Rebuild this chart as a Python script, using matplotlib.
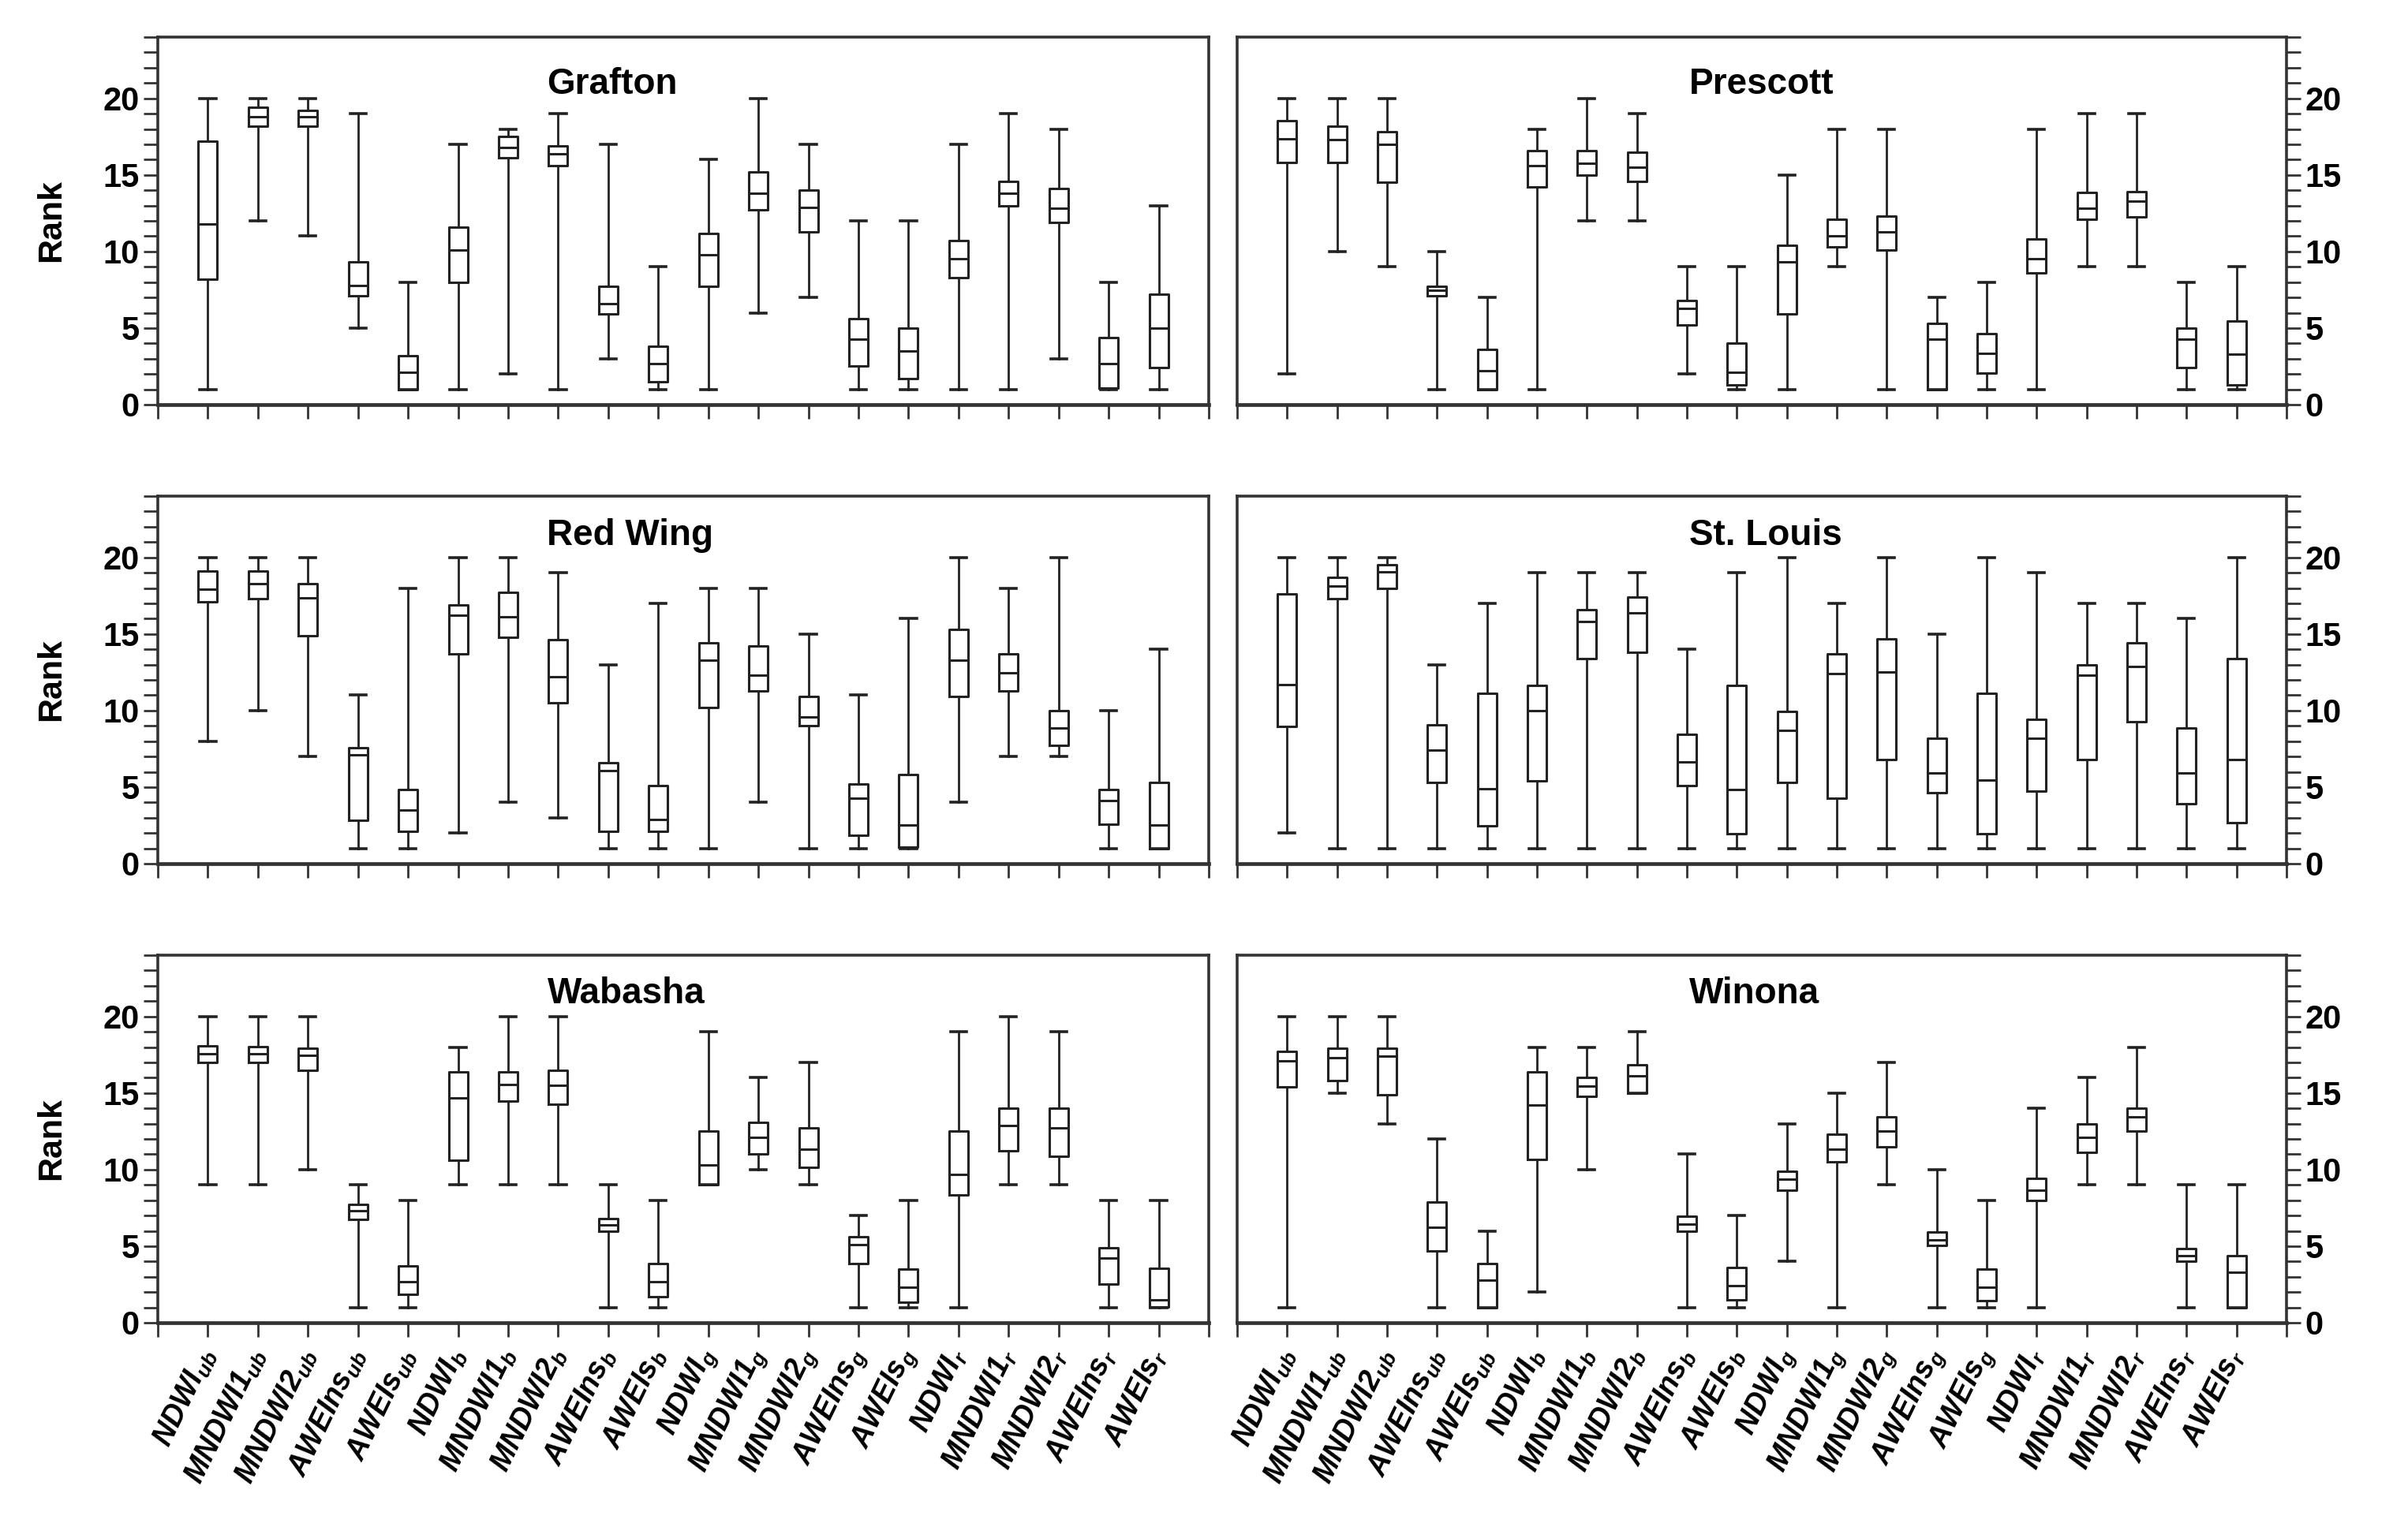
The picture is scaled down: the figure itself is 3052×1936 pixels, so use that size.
import matplotlib
matplotlib.use("Agg")
import matplotlib.pyplot as plt
from matplotlib.ticker import MultipleLocator, FixedLocator

plt.rcParams['font.family'] = ['Liberation Sans', 'DejaVu Sans']
plt.rcParams['font.weight'] = 'bold'
plt.rcParams['mathtext.fontset'] = 'custom'
plt.rcParams['mathtext.it'] = 'Liberation Sans:italic:bold'
plt.rcParams['mathtext.rm'] = 'Liberation Sans:italic:bold'
plt.rcParams['mathtext.bf'] = 'Liberation Sans:italic:bold'

# ---------------- data ----------------
indices = ["NDWI", "MNDWI1", "MNDWI2", "AWEIns", "AWEIs"]
bands = ["ub", "b", "g", "r"]
tick_labels = [f"{i}$_{{{b}}}$" for b in bands for i in indices]

sites = ["Grafton", "Prescott", "Red Wing", "St. Louis", "Wabasha", "Winona"]

grafton_lo = [1, 12, 11, 5, 1, 1, 2, 1, 3, 1, 1, 6, 7, 1, 1, 1, 1, 3, 1, 1]
grafton_q1 = [8.2, 18.2, 18.2, 7.1, 1.0, 8.0, 16.1, 15.6, 5.9, 1.5, 7.7, 12.7, 11.3, 2.5, 1.7, 8.3, 13.0, 11.9, 1.1, 2.4]
grafton_med = [11.8, 18.8, 18.8, 7.8, 2.1, 10.1, 16.8, 16.4, 6.6, 2.7, 9.8, 13.8, 12.9, 4.25, 3.5, 9.55, 13.8, 12.8, 2.7, 5.0]
grafton_q3 = [17.2, 19.4, 19.2, 9.3, 3.2, 11.6, 17.5, 16.9, 7.7, 3.8, 11.2, 15.2, 14.0, 5.6, 5.0, 10.7, 14.6, 14.1, 4.4, 7.2]
grafton_hi = [20, 20, 20, 19, 8, 17, 18, 19, 17, 9, 16, 20, 17, 12, 12, 17, 19, 18, 8, 13]

prescott_lo = [2, 10, 9, 1, 1, 1, 12, 12, 2, 1, 1, 9, 1, 1, 1, 1, 9, 9, 1, 1]
prescott_q1 = [15.8, 15.8, 14.5, 7.1, 1.0, 14.2, 15.0, 14.6, 5.2, 1.3, 5.9, 10.3, 10.1, 1.0, 2.05, 8.6, 12.1, 12.25, 2.4, 1.3]
prescott_med = [17.35, 17.3, 17.0, 7.45, 2.2, 15.6, 15.75, 15.5, 6.3, 2.1, 9.3, 11.0, 11.3, 4.3, 3.35, 9.55, 12.8, 13.3, 4.3, 3.3]
prescott_q3 = [18.55, 18.2, 17.8, 7.7, 3.6, 16.6, 16.6, 16.5, 6.8, 4.0, 10.4, 12.1, 12.3, 5.3, 4.65, 10.8, 13.85, 13.9, 5.0, 5.45]
prescott_hi = [20, 20, 20, 10, 7, 18, 20, 19, 9, 9, 15, 18, 18, 7, 8, 18, 19, 19, 8, 9]

redwing_lo = [8, 10, 7, 1, 1, 2, 4, 3, 1, 1, 1, 4, 1, 1, 1, 4, 7, 7, 1, 1]
redwing_q1 = [17.1, 17.3, 14.9, 2.85, 2.1, 13.7, 14.8, 10.5, 2.1, 2.1, 10.2, 11.3, 9.0, 1.85, 1.1, 10.9, 11.3, 7.75, 2.6, 1.0]
redwing_med = [17.9, 18.3, 17.35, 7.1, 3.5, 16.2, 16.1, 12.2, 6.1, 2.9, 13.3, 12.3, 9.6, 4.3, 2.5, 13.3, 12.45, 8.85, 4.1, 2.5]
redwing_q3 = [19.1, 19.1, 18.3, 7.55, 4.85, 16.9, 17.7, 14.65, 6.6, 5.1, 14.4, 14.2, 10.9, 5.2, 5.8, 15.3, 13.7, 10.0, 4.85, 5.3]
redwing_hi = [20, 20, 20, 11, 18, 20, 20, 19, 13, 17, 18, 18, 15, 11, 16, 20, 18, 20, 10, 14]

stlouis_lo = [2, 1, 1, 1, 1, 1, 1, 1, 1, 1, 1, 1, 1, 1, 1, 1, 1, 1, 1, 1]
stlouis_q1 = [8.95, 17.3, 18.0, 5.3, 2.45, 5.4, 13.4, 13.8, 5.1, 1.95, 5.3, 4.25, 6.8, 4.65, 1.95, 4.75, 6.8, 9.25, 3.9, 2.7]
stlouis_med = [11.7, 18.15, 19.05, 7.4, 4.9, 10.0, 15.8, 16.4, 6.65, 4.85, 8.7, 12.4, 12.5, 5.9, 5.45, 8.2, 12.3, 12.85, 5.9, 6.8]
stlouis_q3 = [17.6, 18.7, 19.5, 9.05, 11.15, 11.65, 16.6, 17.4, 8.45, 11.65, 9.95, 13.7, 14.7, 8.2, 11.15, 9.4, 13.0, 14.4, 8.85, 13.4]
stlouis_hi = [20, 20, 20, 13, 17, 19, 19, 19, 14, 19, 20, 17, 20, 15, 20, 19, 17, 17, 16, 20]

wabasha_lo = [9, 9, 10, 1, 1, 9, 9, 9, 1, 1, 9, 10, 9, 1, 1, 1, 9, 9, 1, 1]
wabasha_q1 = [16.98, 17.0, 16.5, 6.75, 1.85, 10.6, 14.45, 14.25, 6.0, 1.7, 9.0, 11.0, 10.15, 3.85, 1.35, 8.35, 11.25, 10.85, 2.5, 1.05]
wabasha_med = [17.54, 17.55, 17.45, 7.3, 2.7, 14.7, 15.55, 15.5, 6.4, 2.7, 10.3, 12.1, 11.35, 5.1, 2.3, 9.7, 12.9, 12.7, 4.2, 1.5]
wabasha_q3 = [18.06, 18.05, 17.9, 7.7, 3.7, 16.4, 16.4, 16.5, 6.8, 3.85, 12.5, 13.1, 12.7, 5.6, 3.5, 12.5, 14.0, 14.0, 4.9, 3.55]
wabasha_hi = [20, 20, 20, 9, 8, 18, 20, 20, 9, 8, 19, 16, 17, 7, 8, 19, 20, 19, 8, 8]

winona_lo = [1, 15, 13, 1, 1, 2, 10, 15, 1, 1, 4, 1, 9, 1, 1, 1, 9, 9, 1, 1]
winona_q1 = [15.4, 15.8, 14.9, 4.7, 1.0, 10.65, 14.8, 15.0, 6.0, 1.5, 8.65, 10.5, 11.5, 5.05, 1.45, 8.0, 11.1, 12.5, 4.0, 1.0]
winona_med = [17.1, 17.3, 17.4, 6.25, 2.8, 14.2, 15.45, 16.1, 6.45, 2.4, 9.35, 11.35, 12.5, 5.4, 2.3, 8.65, 12.1, 13.45, 4.4, 3.3]
winona_q3 = [17.7, 17.9, 17.9, 7.9, 3.85, 16.4, 16.0, 16.85, 6.95, 3.6, 9.9, 12.3, 13.45, 5.9, 3.5, 9.4, 13.0, 14.0, 4.85, 4.4]
winona_hi = [20, 20, 20, 12, 6, 18, 18, 19, 11, 7, 13, 15, 17, 10, 8, 14, 16, 18, 9, 9]

site_data = {
    "Grafton": (grafton_lo, grafton_q1, grafton_med, grafton_q3, grafton_hi),
    "Prescott": (prescott_lo, prescott_q1, prescott_med, prescott_q3, prescott_hi),
    "Red Wing": (redwing_lo, redwing_q1, redwing_med, redwing_q3, redwing_hi),
    "St. Louis": (stlouis_lo, stlouis_q1, stlouis_med, stlouis_q3, stlouis_hi),
    "Wabasha": (wabasha_lo, wabasha_q1, wabasha_med, wabasha_q3, wabasha_hi),
    "Winona": (winona_lo, winona_q1, winona_med, winona_q3, winona_hi),
}

# ---------------- layout ----------------
W, H = 3052, 1936
fig = plt.figure(figsize=(W / 100, H / 100), dpi=100)

col_x = [(200, 1532), (1568, 2898)]
row_y = [(47, 513), (629, 1095), (1211, 1677)]
title_x = [7.78, 9.04]
title_y = [20.3, 20.8, 20.85]

LC = '#222222'
SC = '#333333'

for k, site in enumerate(sites):
    r, c = divmod(k, 2)
    x0, x1 = col_x[c]
    y0, y1 = row_y[r]
    ax = fig.add_axes([x0 / W, 1 - y1 / H, (x1 - x0) / W, (y1 - y0) / H])
    lo, q1, med, q3, hi = site_data[site]
    stats = [dict(whislo=lo[i], q1=q1[i], med=med[i], q3=q3[i], whishi=hi[i], fliers=[])
             for i in range(len(lo))]
    ax.bxp(stats, positions=list(range(1, len(lo) + 1)), widths=0.38, capwidths=0.32,
           showfliers=False,
           boxprops=dict(color=LC, linewidth=2.2),
           whiskerprops=dict(color=LC, linewidth=2.0),
           capprops=dict(color=LC, linewidth=2.6),
           medianprops=dict(color=LC, linewidth=2.2))
    ax.set_xlim(0, 21)
    ax.set_ylim(0, 24)
    for s in ax.spines.values():
        s.set_color(SC)
        s.set_linewidth(2.6)
    ax.spines['bottom'].set_linewidth(3.4)

    ax.yaxis.set_major_locator(FixedLocator([0, 5, 10, 15, 20]))
    ax.yaxis.set_minor_locator(MultipleLocator(1))
    ax.xaxis.set_major_locator(FixedLocator(list(range(22))))
    ax.tick_params(axis='both', which='both', direction='out', length=13, width=2.0,
                   color=SC, labelsize=30)
    ax.tick_params(axis='x', top=False)
    if c == 0:
        ax.tick_params(axis='y', which='both', left=True, right=False,
                       labelleft=True, labelright=False, pad=4)
        ax.set_ylabel('Rank', fontsize=31, fontweight='bold')
        ax.yaxis.set_label_coords(-0.086, 0.5)
    else:
        ax.tick_params(axis='y', which='both', left=False, right=True,
                       labelleft=False, labelright=True, pad=4)
    for lab in ax.get_yticklabels():
        lab.set_fontweight('bold')

    if r == 2:
        ax.set_xticklabels([''] + tick_labels + [''], rotation=64, ha='right',
                           va='center', rotation_mode='anchor', fontsize=27,
                           fontstyle='italic', fontweight='bold')
        ax.tick_params(axis='x', pad=12)
    else:
        ax.set_xticklabels([])

    ax.text(title_x[c], title_y[r], site, fontsize=33, fontweight='bold',
            ha='left', va='baseline', color='black')

fig.savefig('out.png', dpi=100, facecolor='white')
